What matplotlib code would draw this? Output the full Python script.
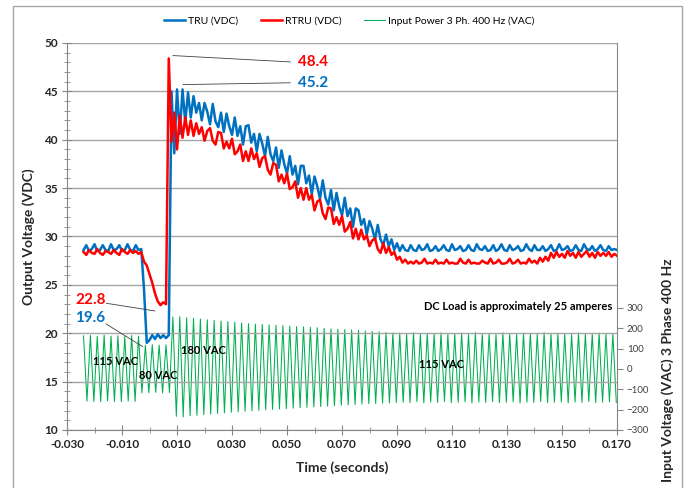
import numpy as np
import matplotlib.pyplot as plt
from matplotlib.patches import Rectangle
from matplotlib.ticker import FixedLocator, MultipleLocator

plt.rcParams['font.family'] = ['Lato', 'DejaVu Sans']

# DC outputs, one sample per ms from -0.024 s to 0.170 s
t0_dc, dt_dc = -0.024, 0.001
tru = [
    28.6, 29.1, 28.5, 28.7, 29.2, 28.5, 28.6, 29.1, 28.6, 28.5,
    29.2, 28.6, 28.7, 29.1, 28.5, 28.6, 29.2, 28.6, 28.5, 29.1,
    28.6, 28.7, 24.5, 19.0, 19.3, 19.8, 19.4, 19.9, 19.5, 19.8,
    19.5, 19.8, 45.0, 38.6, 45.2, 40.6, 45.2, 41.8, 44.9, 42.3,
    44.5, 42.8, 43.8, 42.0, 43.8, 42.9, 41.6, 43.7, 41.9, 41.3,
    42.8, 40.8, 42.7, 41.4, 40.5, 42.3, 40.4, 41.4, 39.5, 41.4,
    41.5, 39.7, 40.6, 38.8, 40.6, 39.6, 38.3, 40.3, 38.5, 37.8,
    39.2, 37.1, 38.9, 37.5, 36.5, 38.3, 36.4, 37.3, 35.4, 37.3,
    37.3, 35.5, 36.3, 34.4, 36.2, 35.2, 33.9, 35.8, 34.0, 33.3,
    34.8, 32.7, 34.5, 33.1, 32.2, 34.0, 32.1, 32.9, 31.0, 32.9,
    32.7, 31.2, 31.8, 30.2, 31.6, 30.8, 29.7, 31.2, 29.7, 29.1,
    30.2, 29.0, 29.7, 28.6, 29.3, 28.5, 29.1, 28.6, 28.5, 29.1,
    28.6, 28.5, 29.1, 28.6, 28.7, 29.2, 28.5, 28.6, 29.0, 28.5,
    28.7, 29.1, 28.6, 28.5, 29.2, 28.6, 28.7, 29.0, 28.5, 28.6,
    29.1, 28.6, 28.5, 29.2, 28.7, 28.6, 29.0, 28.5, 28.6, 29.1,
    28.5, 28.7, 29.2, 28.6, 28.5, 29.1, 28.6, 28.7, 29.0, 28.5,
    28.6, 29.2, 28.7, 28.5, 29.1, 28.6, 28.6, 29.0, 28.5, 28.7,
    29.1, 28.5, 28.6, 29.2, 28.6, 28.7, 29.0, 28.5, 28.6, 29.1,
    28.6, 28.5, 29.2, 28.7, 28.6, 29.0, 28.5, 28.7, 29.1, 28.6,
    28.5, 29.0, 28.6, 28.7, 28.6,
]
rtru = [
    28.4, 28.1, 28.6, 28.3, 28.2, 28.7, 28.3, 28.1, 28.5, 28.4,
    28.2, 28.6, 28.3, 28.1, 28.7, 28.4, 28.2, 28.6, 28.3, 28.5,
    28.2, 28.4, 27.4, 27.0, 26.1, 25.2, 24.1, 23.3, 22.9, 23.2,
    23.0, 48.4, 39.8, 42.8, 39.0, 42.5, 40.2, 42.3, 40.5, 42.0,
    40.4, 41.7, 40.6, 41.3, 39.9, 40.9, 41.2, 39.9, 39.5, 40.8,
    40.7, 39.1, 39.8, 39.1, 40.1, 38.5, 38.8, 39.5, 37.8, 38.8,
    37.8, 39.1, 38.0, 38.6, 37.2, 38.1, 38.3, 36.9, 36.4, 37.6,
    37.4, 35.7, 36.4, 35.5, 36.5, 34.9, 35.1, 35.7, 34.0, 35.0,
    33.8, 35.0, 33.8, 34.3, 32.7, 33.6, 33.8, 32.4, 31.8, 33.0,
    32.9, 31.3, 32.0, 31.2, 32.1, 30.5, 30.8, 31.5, 29.8, 30.8,
    29.7, 30.7, 29.7, 30.1, 29.0, 29.6, 29.8, 28.7, 28.3, 29.3,
    28.3, 28.9, 28.1, 28.4, 27.6, 27.9, 27.3, 27.6, 27.2, 27.4,
    27.2, 27.5, 27.2, 27.3, 27.7, 27.2, 27.3, 27.2, 27.6, 27.2,
    27.3, 27.2, 27.6, 27.2, 27.3, 27.2, 27.2, 27.7, 27.3, 27.2,
    27.6, 27.2, 27.3, 27.2, 27.2, 27.5, 27.3, 27.2, 27.7, 27.2,
    27.3, 27.6, 27.2, 27.2, 27.3, 27.7, 27.2, 27.3, 27.6, 27.2,
    27.3, 27.2, 27.7, 27.3, 27.5, 27.2, 27.8, 27.4, 27.9, 27.5,
    28.3, 27.8, 28.4, 27.9, 28.2, 27.8, 28.5, 28.0, 28.3, 27.8,
    28.4, 27.9, 28.2, 28.5, 27.9, 28.3, 27.8, 28.4, 28.0, 28.3,
    28.0, 28.4, 27.9, 28.2, 28.0,
]

# AC input, peak / trough of each half cycle (400 Hz -> 1.25 ms)
t0_ac, dt_ac = -0.024, 0.00125
vac_115_before = [162, -158, 165, -160, 160, -162, 166, -157, 161, -160,
                  163, -161, 159, -158, 164, -160, 161]
vac_80 = [-118, 116, -117, 119, -115, 117, -118, 118, -116]
vac_180 = [255, -233, 256, -236, 251, -230, 248, -228, 245, -225,
           241, -222, 238, -219, 235, -216, 232, -213, 229, -211,
           226, -208, 222, -206, 220, -203, 218, -201, 216, -199,
           214, -197, 212, -195, 210, -193, 208, -191, 206, -189,
           204, -187, 202, -185, 199, -183, 197, -181, 195, -179,
           193, -177, 191, -175, 189, -173, 186, -171, 184, -170,
           182, -168, 179, -167, 177, -165]
vac_115_after = [176, -164, 172, -166, 178, -161, 170, -167, 175, -163,
                 173, -165, 177, -160, 171, -166, 174, -164, 176, -162,
                 170, -167, 178, -163, 172, -165, 175, -161, 169, -166,
                 177, -164, 173, -162, 171, -167, 176, -163, 174, -165,
                 170, -161, 178, -166, 172, -164, 175, -162, 173, -167,
                 169, -163, 177, -165, 171, -161, 174, -166, 176, -164,
                 170, -162, 172, -165]
vac = vac_115_before + vac_80 + vac_180 + vac_115_after

x_ticks = [-0.030, -0.010, 0.010, 0.030, 0.050, 0.070, 0.090, 0.110, 0.130, 0.150, 0.170]
vac_ticks = [-300, -200, -100, 0, 100, 200, 300]

t_dc = t0_dc + dt_dc * np.arange(len(tru))
t_ac = t0_ac + dt_ac * np.arange(len(vac))

BLUE, RED, GREEN = '#0070C0', '#FF0000', '#00B050'
GRAY = '#A6A6A6'
TXT = '#262626'

fig = plt.figure(figsize=(6.86, 4.88), dpi=100)
ax = fig.add_axes([0.0977, 0.1189, 0.8017, 0.793])
ax2 = ax.twinx()
ax.set_zorder(ax2.get_zorder() + 1)
ax.patch.set_visible(False)

l3, = ax2.plot(t_ac, vac, color=GREEN, lw=0.75)
l1, = ax.plot(t_dc, tru, color=BLUE, lw=1.8)
l2, = ax.plot(t_dc, rtru, color=RED, lw=1.8)

ax.set_xlim(-0.03, 0.17)
ax.set_ylim(10, 50)
ax2.set_ylim(-300, 1600)

ax.xaxis.set_major_locator(FixedLocator(x_ticks))
ax.xaxis.set_minor_locator(MultipleLocator(0.01))
ax.set_xticklabels([f'{v:.3f}' for v in x_ticks])
ax.yaxis.set_major_locator(MultipleLocator(5))
ax.yaxis.set_minor_locator(MultipleLocator(1))
ax.tick_params(which='major', direction='inout', length=7, color='#868686',
               labelsize=8.5, labelcolor=TXT, pad=3)
ax.tick_params(which='minor', direction='inout', length=4, color='#868686')
for lab in ax.get_xticklabels() + ax.get_yticklabels():
    lab.set_fontweight('bold')

ax2.set_yticks(vac_ticks)
ax2.tick_params(direction='out', length=4, color='#868686', labelsize=7,
                labelcolor='#404040', pad=3)

ax.yaxis.grid(True, which='major', color=GRAY, lw=1)
for s in ['top', 'right']:
    ax.spines[s].set_visible(False)
for s in ['left', 'bottom']:
    ax.spines[s].set_color('#868686')
for s in ['top', 'left', 'bottom']:
    ax2.spines[s].set_visible(False)
ax2.spines['right'].set_color('#868686')

ax.set_xlabel('Time (seconds)', fontsize=10, fontweight='bold', color=TXT, labelpad=8)
ax.set_ylabel('Output Voltage (VDC)', fontsize=10, fontweight='bold', color=TXT)
ax.yaxis.set_label_coords(-0.058, 0.5)
fig.text(0.974, 1 - 258 / 488, 'Input Voltage (VAC) 3 Phase 400 Hz', rotation=90,
         ha='center', va='top', fontsize=10, fontweight='bold', color=TXT)

# data labels with leader lines
lead = dict(arrowstyle='-', color='#404040', lw=0.6, shrinkA=0, shrinkB=0)
box = dict(boxstyle='square,pad=0.5', fc='none', ec='none')
ax.annotate('48.4', xy=(0.0085, 48.7), xytext=(0.054, 48.0), color=RED,
            fontsize=11, fontweight='bold', va='center', ha='left', bbox=box,
            arrowprops=dict(lead, relpos=(0, 0.5)))
ax.annotate('45.2', xy=(0.0122, 45.7), xytext=(0.054, 45.9), color=BLUE,
            fontsize=11, fontweight='bold', va='center', ha='left', bbox=box,
            arrowprops=dict(lead, relpos=(0, 0.5)))
ax.annotate('22.8', xy=(0.002, 22.3), xytext=(-0.0271, 23.4), color=RED,
            fontsize=11, fontweight='bold', va='center', ha='left',
            bbox=dict(boxstyle='square,pad=0.05', fc='none', ec='none'),
            arrowprops=dict(lead, relpos=(1, 0.3)))
ax.annotate('19.6', xy=(-0.0024, 18.6), xytext=(-0.0271, 21.6), color=BLUE,
            fontsize=11, fontweight='bold', va='center', ha='left',
            bbox=dict(boxstyle='square,pad=0.05', fc='none', ec='none'),
            arrowprops=dict(lead, relpos=(1, 0.1)))

note = dict(fontsize=8, fontweight='bold', color='black', va='center')
ax.text(-0.0205, 17.1, '115 VAC', ha='left', **note)
ax.text(-0.0038, 15.6, '80 VAC', ha='left', **note)
ax.text(0.0115, 18.2, '180 VAC', ha='left', **note)
ax.text(0.098, 16.8, '115 VAC', ha='left', **note)
ax.text(0.1685, 22.8, 'DC Load is approximately 25 amperes', ha='right', **note)

fig.legend([l1, l2, l3], ['TRU (VDC)', 'RTRU (VDC)', 'Input Power 3 Ph. 400 Hz (VAC)'],
           loc='center', bbox_to_anchor=(0.509, 0.957), ncol=3, frameon=False,
           fontsize=7.5, handlelength=2.0, handletextpad=0.3, columnspacing=2.2)

fig.add_artist(Rectangle((13 / 686, -0.02), (682 - 13) / 686, 1 - 6 / 488 + 0.02,
                         transform=fig.transFigure, fill=False, ec=GRAY, lw=1))

fig.savefig('out.png', dpi=100)
